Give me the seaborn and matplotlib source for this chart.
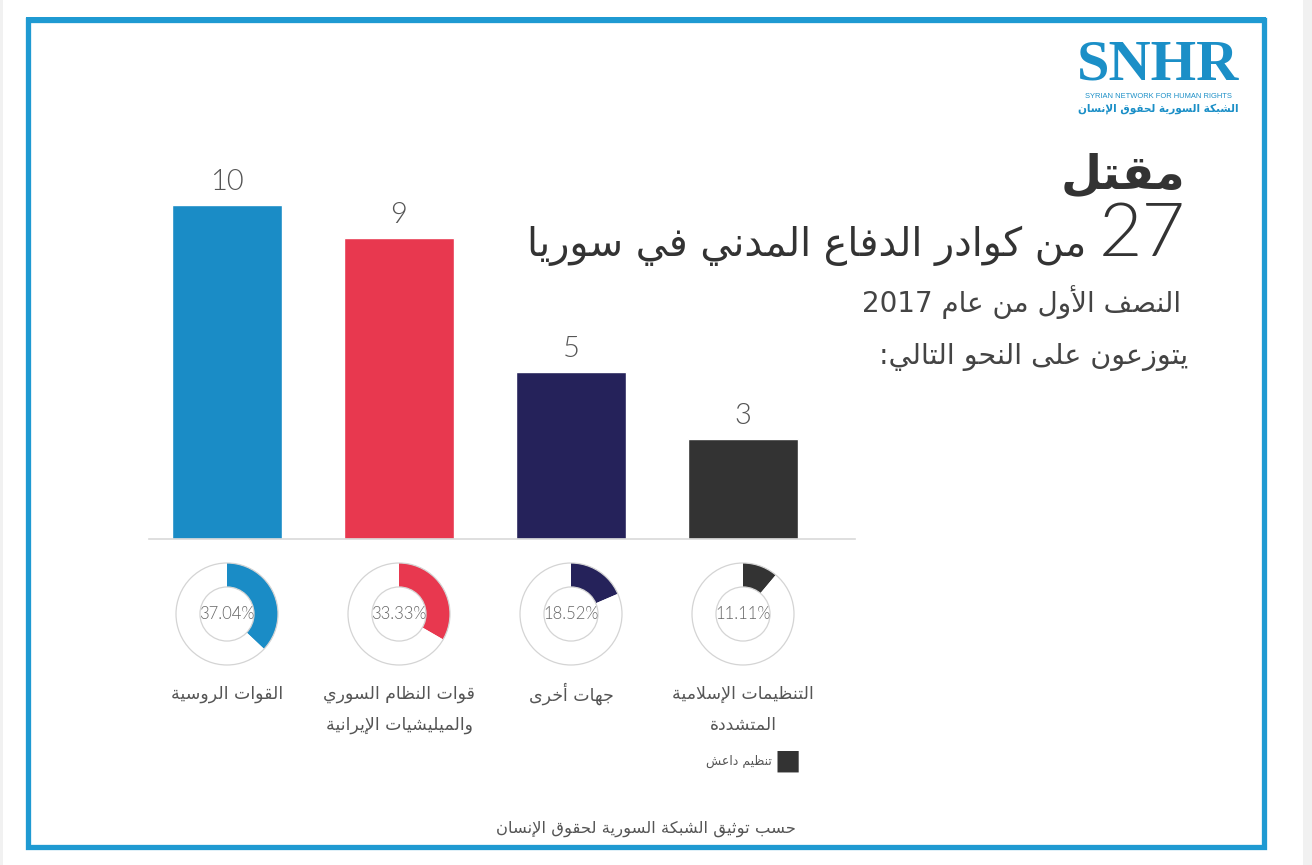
import re
import matplotlib
matplotlib.use("Agg")
import matplotlib.pyplot as plt
from matplotlib.patches import Rectangle, Circle
import seaborn as sns
import pandas as pd

# ---------------- data ----------------
categories = ["القوات الروسية", "قوات النظام السوري\nوالميليشيات الإيرانية", "جهات أخرى", "التنظيمات الإسلامية\nالمتشددة"]
values = [10, 9, 5, 3]
colors = ["#1a8cc6", "#e8384f", "#25225a", "#333333"]
title_bold = "مقتل"
subtitle = "من كوادر الدفاع المدني في سوريا"
period = "النصف الأول من عام 2017"
intro = "يتوزعون على النحو التالي:"
legend_label = "تنظيم داعش"
footer = "حسب توثيق الشبكة السورية لحقوق الإنسان"
logo_en = "SYRIAN NETWORK FOR HUMAN RIGHTS"
logo_ar = "الشبكة السورية لحقوق الإنسان"

# ---------------- minimal Arabic shaping (presentation forms + visual order) ----------------
_LETTERS = "ءآأؤإئابةتثجحخدذرزسشصضطظعغفقكلمنهوىي"
_TWO = set("آأؤإاةدذرزوى")
_FORMS = {}
_code = 0xFE80
for _ch in _LETTERS:
    _n = 1 if _ch == "ء" else (2 if _ch in _TWO else 4)
    _FORMS[_ch] = [chr(_code + k) for k in range(_n)]
    _code += _n
_LAMALEF = {"آ": (0xFEF5, 0xFEF6), "أ": (0xFEF7, 0xFEF8), "إ": (0xFEF9, 0xFEFA), "ا": (0xFEFB, 0xFEFC)}


def _dual(c):
    return c in _FORMS and len(_FORMS[c]) == 4


def _joinable(c):
    return c in _FORMS and len(_FORMS[c]) >= 2


def _shape_line(text):
    out = []
    i, n = 0, len(text)
    while i < n:
        c = text[i]
        prev = text[i - 1] if i > 0 else ""
        pj = _dual(prev) and _joinable(c)
        if c == "ل" and i + 1 < n and text[i + 1] in _LAMALEF:
            out.append(chr(_LAMALEF[text[i + 1]][1 if pj else 0]))
            i += 2
            continue
        if c not in _FORMS:
            out.append(c)
            i += 1
            continue
        f = _FORMS[c]
        nxt = text[i + 1] if i + 1 < n else ""
        nj = len(f) == 4 and _joinable(nxt)
        if pj and nj:
            g = f[3]
        elif pj:
            g = f[1]
        elif nj:
            g = f[2]
        else:
            g = f[0]
        out.append(g)
        i += 1
    s = "".join(out)[::-1]
    return re.sub(r"[0-9A-Za-z.%]+", lambda m: m.group()[::-1], s)


def ar(text):
    return "\n".join(_shape_line(t) for t in text.split("\n"))


# ---------------- figure ----------------
W, H = 1312, 865
sns.set_theme(style="white")
plt.rcParams["font.family"] = ["DejaVu Sans"]
fig = plt.figure(figsize=(W / 100, H / 100), dpi=100, facecolor="white")


def fx(x):
    return x / W


def fy(y):
    return 1 - y / H


NUMFONT = ["Lato", "DejaVu Sans"]

# side strips and frame
fig.add_artist(Rectangle((fx(1303), 0), fx(W - 1303), 1, transform=fig.transFigure, color="#f1f1f1", lw=0))
fig.add_artist(Rectangle((0, 0), fx(3), 1, transform=fig.transFigure, color="#f1f1f1", lw=0))
frame_c = "#1f9ad2"
fig.add_artist(Rectangle((fx(28), fy(847)), fx(1264 - 28), fy(20) - fy(847), transform=fig.transFigure,
                         fill=False, edgecolor=frame_c, lw=3.8))
fig.add_artist(Rectangle((fx(26), fy(22)), fx(1266 - 26), fy(17) - fy(22), transform=fig.transFigure,
                         color=frame_c, lw=0))

# ---------------- bar chart ----------------
step = 172.0
x_left, x_right = 149, 855
base_y, top_y = 539, 150
px_per_unit = 33.4
ymax = (base_y - top_y) / px_per_unit
ax = fig.add_axes([fx(x_left), fy(base_y), fx(x_right - x_left), (base_y - top_y) / H])
df = pd.DataFrame({"cat": categories, "val": values})
sns.barplot(data=df, x="cat", y="val", hue="cat", palette=colors, legend=False, width=0.645,
            saturation=1, ax=ax, order=categories, hue_order=categories)
ax.set_xlim(-(227 - x_left) / step, (x_right - 227) / step)
ax.set_ylim(0, ymax)
ax.set_xticks([])
ax.set_yticks([])
ax.set_xlabel("")
ax.set_ylabel("")
for s in ["top", "right", "left"]:
    ax.spines[s].set_visible(False)
ax.spines["bottom"].set_color("#d9d9d9")
ax.spines["bottom"].set_linewidth(1.2)
ax.patch.set_alpha(0)
for i, v in enumerate(values):
    ax.text(i, v + 23 / px_per_unit, str(v), ha="center", va="center", fontsize=21,
            color="#555555", family=NUMFONT, fontweight=300)

# ---------------- donuts ----------------
total = sum(values)
cy, r_px = 614, 51
for i, (v, c) in enumerate(zip(values, colors)):
    cx = 227 + i * step
    dax = fig.add_axes([fx(cx - r_px - 2), fy(cy + r_px + 2), (2 * r_px + 4) / W, (2 * r_px + 4) / H])
    dax.pie([v, total - v], colors=[c, "white"], startangle=90, counterclock=False,
            wedgeprops=dict(width=0.47, linewidth=0), radius=1)
    dax.add_patch(Circle((0, 0), 1, fill=False, edgecolor="#d4d4d4", lw=0.9))
    dax.add_patch(Circle((0, 0), 0.53, fill=False, edgecolor="#d4d4d4", lw=0.9))
    lim = (r_px + 2) / r_px
    dax.set_xlim(-lim, lim)
    dax.set_ylim(-lim, lim)
    dax.set_aspect("equal")
    dax.axis("off")
    pct = 100 * v / total
    dax.text(0, 0, f"{pct:.2f}%", ha="center", va="center", fontsize=12, color="#666666",
             family=NUMFONT, fontweight=300)
    lines = categories[i].split("\n")
    for j, line in enumerate(lines):
        fig.text(fx(cx), fy(694 + j * 31), ar(line), ha="center", va="center", fontsize=12.5,
                 color="#555555")

# legend for the last group
fig.text(fx(788), fy(761), "■", ha="center", va="center", fontsize=20, color="#333333")
fig.text(fx(772), fy(761), ar(legend_label), ha="right", va="center", fontsize=9, color="#555555")

# ---------------- titles ----------------
fig.text(fx(1185), fy(176), ar(title_bold), ha="right", va="center", fontsize=34, fontweight="bold",
         color="#333333")
fig.text(fx(1186), fy(235), "27", ha="right", va="center", fontsize=54, color="#333333",
         family=NUMFONT, fontweight=300)
fig.text(fx(1086), fy(246), ar(subtitle), ha="right", va="center", fontsize=28.5, color="#333333")
fig.text(fx(1181), fy(302), ar(period), ha="right", va="center", fontsize=20, color="#444444")
fig.text(fx(1188), fy(357), ar(intro), ha="right", va="center", fontsize=20.5, color="#444444")

# ---------------- logo ----------------
logo_c = "#1b8fc7"
fig.text(fx(1158), fy(80), "SNHR", ha="center", va="baseline", fontsize=42, fontweight="bold",
         color=logo_c, family=["Liberation Serif", "DejaVu Serif"])
fig.text(fx(1158), fy(97), logo_en, ha="center", va="center", fontsize=5.4, color=logo_c,
         family=["Liberation Sans Narrow", "Liberation Sans", "DejaVu Sans"])
fig.text(fx(1158), fy(109), ar(logo_ar), ha="center", va="center", fontsize=7.6, fontweight="bold",
         color=logo_c)

# ---------------- footer ----------------
fig.text(fx(646), fy(829), ar(footer), ha="center", va="center", fontsize=11.8, color="#555555")

fig.savefig("out.png", dpi=100, facecolor="white")
